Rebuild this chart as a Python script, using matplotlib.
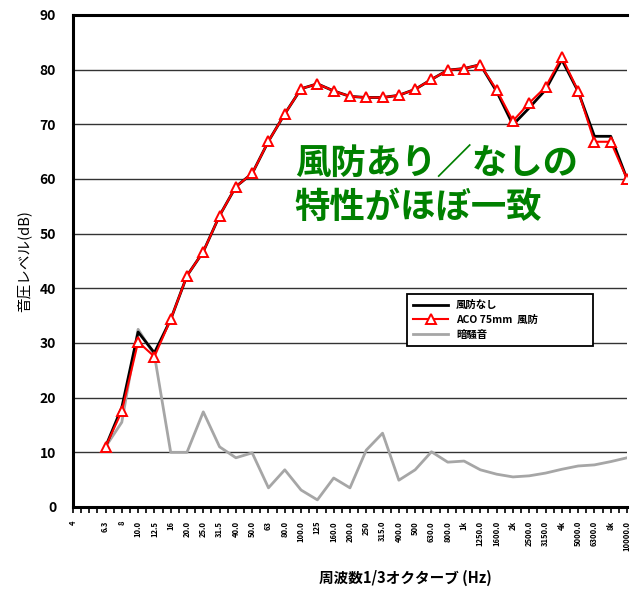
import numpy as np
import matplotlib
matplotlib.use("Agg")
import matplotlib.pyplot as plt

plt.rcParams["font.family"] = ["Noto Sans CJK JP", "DejaVu Sans"]
plt.rcParams["font.weight"] = "bold"

# 1/3 octave bands (4 Hz .. 10 kHz)
bands = ["4", "5", "6.3", "8", "10", "12.5", "16", "20", "25", "31.5", "40", "50",
         "63", "80", "100", "125", "160", "200", "250", "315", "400", "500", "630",
         "800", "1k", "1.25k", "1.6k", "2k", "2.5k", "3.15k", "4k", "5k", "6.3k",
         "8k", "10k"]
tick_labels = ["4", "", "6.3", "8", "10.0", "12.5", "16", "20.0", "25.0", "31.5",
               "40.0", "50.0", "63", "80.0", "100.0", "125", "160.0", "200.0", "250",
               "315.0", "400.0", "500", "630.0", "800.0", "1k", "1250.0", "1600.0",
               "2k", "2500.0", "3150.0", "4k", "5000.0", "6300.0", "8k", "10000.0"]

# values from 6.3 Hz on (no data at 4 and 5 Hz)
no_screen = [11.0, 18.2, 32.0, 28.2, 34.3, 42.3, 46.7, 53.3, 58.6, 61.0, 66.9, 71.9,
             76.5, 77.4, 76.1, 75.1, 74.9, 74.9, 75.3, 76.4, 78.2, 79.9, 80.2, 80.9,
             76.0, 69.9, 73.0, 76.3, 81.8, 76.0, 67.8, 67.8, 60.0]
aco_75mm = [11.0, 17.5, 30.2, 27.5, 34.3, 42.3, 46.7, 53.3, 58.6, 61.0, 66.9, 71.9,
            76.5, 77.4, 76.1, 75.1, 74.9, 74.9, 75.3, 76.4, 78.2, 79.9, 80.2, 80.9,
            76.3, 70.6, 73.9, 76.8, 82.3, 76.1, 66.8, 66.8, 60.0]
background = [11.0, 15.5, 32.5, 27.8, 10.0, 10.0, 17.4, 11.0, 9.0, 9.9, 3.5, 6.8,
              3.1, 1.3, 5.3, 3.5, 10.4, 13.5, 4.9, 6.8, 10.1, 8.2, 8.4, 6.8, 6.0,
              5.5, 5.7, 6.2, 6.9, 7.5, 7.7, 8.3, 9.0]

x_all = np.arange(len(bands))
x = x_all[2:]

fig = plt.figure(figsize=(6.34, 5.90), dpi=100)
ax = fig.add_axes([0.115, 0.1407, 0.874, 0.834])

ax.plot(x, background, color="#a6a6a6", lw=2.0, label="暗騒音", zorder=2)
ax.plot(x, no_screen, color="black", lw=2.0, label="風防なし", zorder=3)
ax.plot(x, aco_75mm, color="red", lw=1.5, marker="^", ms=6.5, mfc="white",
        mec="red", mew=1.4, label="ACO 75mm  風防", zorder=4)

ax.set_xlim(0, 34)
ax.set_ylim(0, 90)
ax.set_yticks(np.arange(0, 91, 10))
ax.yaxis.grid(True, color="#333333", lw=1.0)
ax.set_axisbelow(True)
ax.tick_params(axis="y", length=0, labelsize=10, pad=12)

ax.set_xticks(x_all)
ax.set_xticklabels(tick_labels, rotation=90, fontsize=5.5)
ax.set_xticks(x_all[:-1] + 0.5, minor=True)
ax.tick_params(axis="x", which="both", direction="out", length=4, width=1.2, pad=6)

for s in ["left", "bottom", "top"]:
    ax.spines[s].set_linewidth(2.2)
ax.spines["right"].set_visible(False)

ax.set_ylabel("音圧レベル(dB)", fontsize=10.5, labelpad=6)
fig.text(0.639, 0.02, "周波数1/3オクターブ (Hz)", fontsize=10.5, ha="center", va="center")

fig.text(0.465, 0.686, "風防あり／なしの\n特性がほぼ一致",
         fontsize=25.5, color="#008000", fontweight="bold", va="center", ha="left",
         linespacing=1.33)

h, l = ax.get_legend_handles_labels()
order = [1, 2, 0]
leg = fig.legend([h[i] for i in order], [l[i] for i in order],
                 bbox_to_anchor=(0.634, 0.398, 0.309, 0.119), loc="center",
                 mode="expand", fontsize=7.5, handlelength=3.3, fancybox=False,
                 edgecolor="black", framealpha=1,
                 borderpad=0.6, labelspacing=0.45)
leg.get_frame().set_linewidth(1.3)

fig.savefig("out.png", dpi=100)
